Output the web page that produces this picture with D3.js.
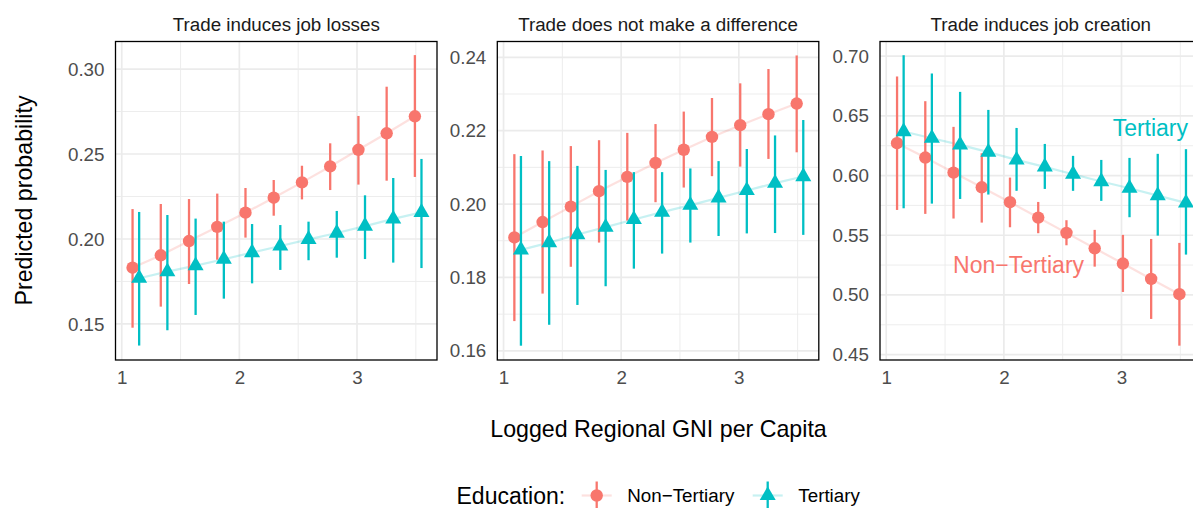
<!DOCTYPE html>
<html>
<head>
<meta charset="utf-8">
<script src="https://cdn.jsdelivr.net/npm/d3@7"></script>
<style>
  html, body { margin: 0; padding: 0; background: #fff; }
  svg { display: block; font-family: "Liberation Sans", Arial, Helvetica, sans-serif; }
</style>
</head>
<body>
<svg id="chart" width="1193" height="508"></svg>
<script>
// ---------------- DATA ----------------
const panelTitles = ["Trade induces job losses", "Trade does not make a difference", "Trade induces job creation"];
const groups = ["Non\u2212Tertiary", "Tertiary"];
const gniValues = [1.12, 1.36, 1.60, 1.84, 2.08, 2.32, 2.56, 2.80, 3.04, 3.28, 3.52];
const xTicks = [1, 2, 3];
const xMinor = [1.5, 2.5, 3.5];

// Panel 1: Trade induces job losses
const lossNonFit = [0.1831, 0.1904, 0.1988, 0.2071, 0.2155, 0.2243, 0.2333, 0.2427, 0.2525, 0.2622, 0.2722];
const lossNonLo  = [0.1478, 0.1602, 0.1735, 0.1878, 0.2008, 0.2137, 0.2233, 0.2288, 0.2320, 0.2343, 0.2365];
const lossNonHi  = [0.2176, 0.2206, 0.2235, 0.2267, 0.2300, 0.2347, 0.2431, 0.2563, 0.2724, 0.2896, 0.3082];
const lossTerFit = [0.1769, 0.1808, 0.1843, 0.1881, 0.1920, 0.1959, 0.1998, 0.2035, 0.2076, 0.2118, 0.2157];
const lossTerLo  = [0.1373, 0.1463, 0.1553, 0.1649, 0.1739, 0.1818, 0.1875, 0.1890, 0.1882, 0.1861, 0.1829];
const lossTerHi  = [0.2159, 0.2141, 0.2120, 0.2102, 0.2088, 0.2082, 0.2102, 0.2165, 0.2257, 0.2359, 0.2471];

// Panel 2: Trade does not make a difference
const sameNonFit = [0.1909, 0.1951, 0.1993, 0.2035, 0.2074, 0.2112, 0.2148, 0.2183, 0.2215, 0.2245, 0.2274];
const sameNonLo  = [0.1681, 0.1756, 0.1829, 0.1895, 0.1955, 0.2005, 0.2045, 0.2076, 0.2102, 0.2123, 0.2141];
const sameNonHi  = [0.2136, 0.2146, 0.2158, 0.2174, 0.2194, 0.2218, 0.2252, 0.2289, 0.2329, 0.2368, 0.2405];
const sameTerFit = [0.1875, 0.1895, 0.1917, 0.1937, 0.1958, 0.1978, 0.1997, 0.2017, 0.2037, 0.2057, 0.2075];
const sameTerLo  = [0.1614, 0.1671, 0.1725, 0.1776, 0.1824, 0.1865, 0.1895, 0.1913, 0.1920, 0.1921, 0.1916];
const sameTerHi  = [0.2131, 0.2117, 0.2104, 0.2093, 0.2087, 0.2087, 0.2097, 0.2117, 0.2150, 0.2187, 0.2229];

// Panel 3: Trade induces job creation
const gainNonFit = [0.6271, 0.6151, 0.6025, 0.5902, 0.5777, 0.5648, 0.5520, 0.5391, 0.5263, 0.5134, 0.5006];
const gainNonLo  = [0.5712, 0.5679, 0.5640, 0.5606, 0.5567, 0.5517, 0.5416, 0.5237, 0.5025, 0.4799, 0.4575];
const gainNonHi  = [0.6830, 0.6623, 0.6408, 0.6187, 0.5983, 0.5779, 0.5626, 0.5545, 0.5503, 0.5469, 0.5436];
const gainTerFit = [0.6369, 0.6313, 0.6257, 0.6196, 0.6131, 0.6073, 0.6011, 0.5950, 0.5894, 0.5832, 0.5771];
const gainTerLo  = [0.5726, 0.5765, 0.5804, 0.5841, 0.5872, 0.5888, 0.5872, 0.5788, 0.5651, 0.5497, 0.5338];
const gainTerHi  = [0.7008, 0.6855, 0.6701, 0.6550, 0.6399, 0.6265, 0.6165, 0.6131, 0.6148, 0.6182, 0.6221];

const yTicks1 = [0.15, 0.20, 0.25, 0.30];
const yMinor1 = [0.175, 0.225, 0.275];
const yTicks2 = [0.16, 0.18, 0.20, 0.22, 0.24];
const yMinor2 = [0.17, 0.19, 0.21, 0.23];
const yTicks3 = [0.45, 0.50, 0.55, 0.60, 0.65, 0.70];
const yMinor3 = [0.475, 0.525, 0.575, 0.625, 0.675];

const yDomains = [[0.1288, 0.3162], [0.1575, 0.2443], [0.4455, 0.7123]];
const xDomain = [0.947, 3.68];

// direct labels in panel 3
const directLabels = [
  { text: "Tertiary", group: 1, x: 3.245, y: 0.640 },
  { text: "Non\u2212Tertiary", group: 0, x: 2.125, y: 0.5252 }
];

// ---------------- BUILD ----------------
const panelData = [
  [[lossNonFit, lossNonLo, lossNonHi], [lossTerFit, lossTerLo, lossTerHi]],
  [[sameNonFit, sameNonLo, sameNonHi], [sameTerFit, sameTerLo, sameTerHi]],
  [[gainNonFit, gainNonLo, gainNonHi], [gainTerFit, gainTerLo, gainTerHi]]
];
const yTickSets = [yTicks1, yTicks2, yTicks3];
const yMinorSets = [yMinor1, yMinor2, yMinor3];

const colors = d3.scaleOrdinal().domain(groups).range(["#F8766D", "#00BFC4"]);
const dodge = [-0.028, 0.028];

const svg = d3.select("#chart");
const panelLeft = [115.5, 497.3, 880];
const panelW = 321.5;
const panelTop = 41.5, panelBottom = 360;
const fmt = [d3.format(".2f"), d3.format(".2f"), d3.format(".2f")];
const FS = 18.8;

panelLeft.forEach((left, pi) => {
  const x = d3.scaleLinear().domain(xDomain).range([left, left + panelW]);
  const y = d3.scaleLinear().domain(yDomains[pi]).range([panelBottom, panelTop]);
  const g = svg.append("g");

  // minor grid
  g.selectAll(".vminor").data(xMinor).join("line")
    .attr("x1", d => x(d)).attr("x2", d => x(d))
    .attr("y1", panelTop).attr("y2", panelBottom)
    .attr("stroke", "#EBEBEB").attr("stroke-width", 0.9);
  g.selectAll(".hminor").data(yMinorSets[pi]).join("line")
    .attr("x1", left).attr("x2", left + panelW)
    .attr("y1", d => y(d)).attr("y2", d => y(d))
    .attr("stroke", "#EBEBEB").attr("stroke-width", 0.9);
  // major grid
  g.selectAll(".vmajor").data(xTicks).join("line")
    .attr("x1", d => x(d)).attr("x2", d => x(d))
    .attr("y1", panelTop).attr("y2", panelBottom)
    .attr("stroke", "#EBEBEB").attr("stroke-width", 1.7);
  g.selectAll(".hmajor").data(yTickSets[pi]).join("line")
    .attr("x1", left).attr("x2", left + panelW)
    .attr("y1", d => y(d)).attr("y2", d => y(d))
    .attr("stroke", "#EBEBEB").attr("stroke-width", 1.7);

  // axes (labels only)
  const yAxis = d3.axisLeft(y).tickValues(yTickSets[pi]).tickFormat(fmt[pi]).tickSize(0).tickPadding(11);
  const ya = g.append("g").attr("transform", `translate(${left},0)`).call(yAxis);
  ya.select(".domain").remove();
  ya.selectAll("text").attr("fill", "#4D4D4D").style("font-size", FS + "px")
    .style("font-family", '"Liberation Sans", Arial, sans-serif');

  const xAxis = d3.axisBottom(x).tickValues(xTicks).tickFormat(d3.format("d")).tickSize(0).tickPadding(11);
  const xa = g.append("g").attr("transform", `translate(0,${panelBottom})`).call(xAxis);
  xa.select(".domain").remove();
  xa.selectAll("text").attr("fill", "#4D4D4D").style("font-size", FS + "px")
    .style("font-family", '"Liberation Sans", Arial, sans-serif');

  // connecting lines
  groups.forEach((grp, gi) => {
    const fit = panelData[pi][gi][0];
    const pts = gniValues.map((v, i) => [x(v + dodge[gi]), y(fit[i])]);
    g.append("path").datum(pts)
      .attr("d", d3.line())
      .attr("fill", "none")
      .attr("stroke", colors(grp)).attr("stroke-opacity", 0.22)
      .attr("stroke-width", 2.2);
  });

  // pointranges
  groups.forEach((grp, gi) => {
    const [fit, lo, hi] = panelData[pi][gi];
    const rows = gniValues.map((v, i) => ({ x: v + dodge[gi], f: fit[i], lo: lo[i], hi: hi[i] }));
    g.selectAll(null).data(rows).join("line")
      .attr("x1", d => x(d.x)).attr("x2", d => x(d.x))
      .attr("y1", d => y(d.lo)).attr("y2", d => y(d.hi))
      .attr("stroke", colors(grp)).attr("stroke-width", 2.3);
    if (gi === 0) {
      g.selectAll(null).data(rows).join("circle")
        .attr("cx", d => x(d.x)).attr("cy", d => y(d.f)).attr("r", 6.2)
        .attr("fill", colors(grp));
    } else {
      g.selectAll(null).data(rows).join("path")
        .attr("transform", d => `translate(${x(d.x)},${y(d.f)})`)
        .attr("d", d3.symbol(d3.symbolTriangle, 111)())
        .attr("fill", colors(grp));
    }
  });

  // panel border
  g.append("rect").attr("x", left).attr("y", panelTop)
    .attr("width", panelW).attr("height", panelBottom - panelTop)
    .attr("fill", "none").attr("stroke", "#000").attr("stroke-width", 1.3);

  // strip title
  svg.append("text").attr("x", left + panelW / 2).attr("y", 30.5)
    .attr("text-anchor", "middle").attr("fill", "#1A1A1A")
    .style("font-size", FS + "px").text(panelTitles[pi]);

  if (pi === 2) {
    directLabels.forEach(l => {
      svg.append("text").attr("x", x(l.x)).attr("y", y(l.y))
        .attr("text-anchor", "middle").attr("dominant-baseline", "central")
        .attr("fill", colors(groups[l.group]))
        .style("font-size", "23px").text(l.text);
    });
  }
});

// axis titles
svg.append("text")
  .attr("transform", `translate(32,200.5) rotate(-90)`)
  .attr("text-anchor", "middle").attr("fill", "#000")
  .style("font-size", "23.2px").text("Predicted probability");
svg.append("text").attr("x", 658.5).attr("y", 437)
  .attr("text-anchor", "middle").attr("fill", "#000")
  .style("font-size", "23.2px").text("Logged Regional GNI per Capita");

// legend
const legY = 495.5;
svg.append("text").attr("x", 456.5).attr("y", legY).attr("dominant-baseline", "central")
  .attr("fill", "#000").style("font-size", "23px").text("Education:");
const legendItems = [
  { grp: groups[0], cx: 596.7, tx: 627.3 },
  { grp: groups[1], cx: 767.7, tx: 798.3 }
];
legendItems.forEach((it, gi) => {
  const c = colors(it.grp);
  svg.append("line").attr("x1", it.cx - 15).attr("x2", it.cx + 15)
    .attr("y1", legY).attr("y2", legY)
    .attr("stroke", c).attr("stroke-opacity", 0.22).attr("stroke-width", 2.2);
  svg.append("line").attr("x1", it.cx).attr("x2", it.cx)
    .attr("y1", legY - 14).attr("y2", legY + 14)
    .attr("stroke", c).attr("stroke-width", 2.3);
  if (gi === 0) {
    svg.append("circle").attr("cx", it.cx).attr("cy", legY).attr("r", 6.2).attr("fill", c);
  } else {
    svg.append("path").attr("transform", `translate(${it.cx},${legY})`)
      .attr("d", d3.symbol(d3.symbolTriangle, 111)()).attr("fill", c);
  }
  svg.append("text").attr("x", it.tx).attr("y", legY).attr("dominant-baseline", "central")
    .attr("fill", "#000").style("font-size", FS + "px").text(it.grp);
});
</script>
</body>
</html>
